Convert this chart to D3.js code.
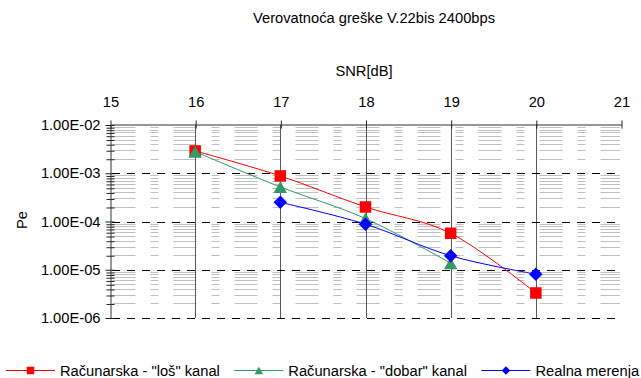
<!DOCTYPE html>
<html>
<head>
<meta charset="utf-8">
<script src="https://cdn.jsdelivr.net/npm/d3@7"></script>
<style>
  body { margin: 0; background: #fff; }
  svg { display: block; font-family: "Liberation Sans", Arial, sans-serif; font-size: 14.7px; }
</style>
</head>
<body>
<svg id="chart" width="641" height="378"></svg>
<script>
(function () {
    'use strict';

    // values
    const snrTicks = [15, 16, 17, 18, 19, 20, 21];
    const peTicks = [1e-2, 1e-3, 1e-4, 1e-5, 1e-6];

    const losSnr = [16, 17, 18, 19, 20];
    const losPe = [2.9e-3, 8.8e-4, 2.0e-4, 5.7e-5, 3.3e-6];

    const dobarSnr = [16, 17, 18, 19];
    const dobarPe = [2.8e-3, 5.2e-4, 1.15e-4, 1.37e-5];

    const realnaSnr = [17, 18, 19, 20];
    const realnaPe = [2.5e-4, 8.8e-5, 1.95e-5, 8.1e-6];

    const seriesNames = ['Računarska - "loš" kanal', 'Računarska - "dobar" kanal', 'Realna merenja'];
    const seriesColors = ['#ff0000', '#339966', '#0000ff'];
    const seriesMarkers = ['square', 'triangle', 'diamond'];

    const chartTitle = 'Verovatnoća greške V.22bis 2400bps';
    const xTitle = 'SNR[dB]';
    const yTitle = 'Pe';

    const series = [
        {snr: losSnr, pe: losPe},
        {snr: dobarSnr, pe: dobarPe},
        {snr: realnaSnr, pe: realnaPe}
    ].map((s, i) => ({
        name: seriesNames[i],
        color: seriesColors[i],
        marker: seriesMarkers[i],
        points: s.snr.map((v, j) => ({x: v, y: s.pe[j]}))
    }));

    const left = 110, right = 621, top = 125, bottom = 318;

    const x = d3.scaleLinear().domain([15, 21]).range([left, right]);
    const y = d3.scaleLog().domain([1e-2, 1e-6]).range([top, bottom]);

    const minorTicks = [];
    for (let e = -6; e < -2; e++) {
        for (let m = 2; m <= 9; m++) minorTicks.push(m * Math.pow(10, e));
    }

    const formatPe = v => d3.format(".2e")(v)
            .replace(/e([+-])(\d+)$/, (all, sign, digits) => "E" + sign + digits.padStart(2, "0"));

    const markerPath = (type, w, h) => {
        const a = w / 2, b = h / 2;
        if (type === 'square') return `M${-a},${-b}H${a}V${b}H${-a}Z`;
        if (type === 'triangle') return `M0,${-b}L${a},${b}L${-a},${b}Z`;
        return `M0,${-b}L${a},0L0,${b}L${-a},0Z`;
    };
    const markerSize = {square: [11.5, 11.5], triangle: [13.5, 12], diamond: [13.5, 13.5]};
    const legendMarkerSize = {square: [7.5, 7.5], triangle: [8.5, 7.5], diamond: [8.5, 8.5]};

    const svg = d3.select('#chart');

    // minor gridlines
    svg.append("g")
            .selectAll("line")
            .data(minorTicks)
            .join("line")
            .attr("x1", left + 2.5)
            .attr("x2", right - 1)
            .attr("y1", d => Math.round(y(d)) + 0.5)
            .attr("y2", d => Math.round(y(d)) + 0.5)
            .attr("stroke", "#c0c0c0")
            .attr("stroke-dasharray", "23,15,8,15");

    // vertical gridlines
    svg.append("g")
            .selectAll("line")
            .data(snrTicks.slice(1, -1))
            .join("line")
            .attr("x1", d => Math.round(x(d)) + 0.5)
            .attr("x2", d => Math.round(x(d)) + 0.5)
            .attr("y1", top)
            .attr("y2", bottom)
            .attr("stroke", "#5a5a5a");

    // major gridlines
    svg.append("g")
            .selectAll("line")
            .data(peTicks.slice(1))
            .join("line")
            .attr("x1", left + 2)
            .attr("x2", right - 1)
            .attr("y1", d => Math.round(y(d)) + 0.5)
            .attr("y2", d => Math.round(y(d)) + 0.5)
            .attr("stroke", "#000")
            .attr("stroke-dasharray", "8,7");

    // x axis on top
    const xAxis = svg.append("g")
            .attr("transform", `translate(0.5,${top - 0.5})`)
            .call(d3.axisTop(x).tickValues(snrTicks).tickSize(4).tickSizeOuter(0).tickPadding(14)
                    .tickFormat(d3.format("d")));
    xAxis.select(".domain").attr("stroke", "#333");
    xAxis.selectAll(".tick line").attr("y2", -4).attr("y1", 4).attr("stroke", "#222");
    xAxis.selectAll(".tick text")
            .attr("font-size", "14.7px")
            .attr("font-family", "'Liberation Sans', Arial, sans-serif")
            .attr("fill", "#000");

    // y axis, minor ticks
    const yMinor = svg.append("g")
            .attr("transform", `translate(${left + 0.5},0.5)`)
            .call(d3.axisLeft(y).tickValues(minorTicks).tickSize(4).tickSizeOuter(0).tickFormat(""));
    yMinor.select(".domain").remove();
    yMinor.selectAll(".tick line").attr("x2", -4).attr("x1", 4).attr("stroke", "#222");

    // y axis, decades
    const yAxis = svg.append("g")
            .attr("transform", `translate(${left + 0.5},0)`)
            .call(d3.axisLeft(y).tickValues(peTicks).tickSize(5).tickSizeOuter(0).tickPadding(5)
                    .tickFormat(formatPe));
    yAxis.select(".domain").attr("stroke", "#333");
    yAxis.selectAll(".tick line").attr("x1", 4).attr("stroke", "#222");
    yAxis.selectAll(".tick text")
            .attr("font-size", "14.7px")
            .attr("font-family", "'Liberation Sans', Arial, sans-serif")
            .attr("fill", "#000");

    // titles
    svg.append("text")
            .attr("x", 374)
            .attr("y", 23)
            .attr("text-anchor", "middle")
            .text(chartTitle);

    svg.append("text")
            .attr("x", 364)
            .attr("y", 76)
            .attr("text-anchor", "middle")
            .text(xTitle);

    svg.append("text")
            .attr("transform", "translate(27,220) rotate(-90)")
            .attr("text-anchor", "middle")
            .text(yTitle);

    // series lines (smoothed like the spreadsheet original)
    const line = d3.line()
            .x(d => x(d.x))
            .y(d => y(d.y))
            .curve(d3.curveCardinal.tension(0));

    svg.append("g")
            .selectAll("path")
            .data(series)
            .join("path")
            .attr("d", d => line(d.points))
            .attr("fill", "none")
            .attr("stroke", d => d.color)
            .attr("stroke-width", 1);

    // markers
    series.forEach(s => {
        const [w, h] = markerSize[s.marker];
        svg.append("g")
                .selectAll("path")
                .data(s.points)
                .join("path")
                .attr("transform", d => `translate(${x(d.x)},${y(d.y)})`)
                .attr("d", markerPath(s.marker, w, h))
                .attr("fill", s.color);
    });

    // legend
    const legendY = 370;
    let legendX = 6;
    series.forEach(s => {
        const item = svg.append("g").attr("transform", `translate(${legendX},${legendY})`);
        item.append("line")
                .attr("x1", 0)
                .attr("x2", 49)
                .attr("y1", 0.5)
                .attr("y2", 0.5)
                .attr("stroke", s.color);
        const [w, h] = legendMarkerSize[s.marker];
        item.append("path")
                .attr("transform", "translate(24.5,0.5)")
                .attr("d", markerPath(s.marker, w, h))
                .attr("fill", s.color);
        const label = item.append("text")
                .attr("x", 54)
                .attr("y", 5.5)
                .text(s.name);
        legendX += 54 + label.node().getComputedTextLength() + 14.5;
    });

}());
</script>
</body>
</html>
